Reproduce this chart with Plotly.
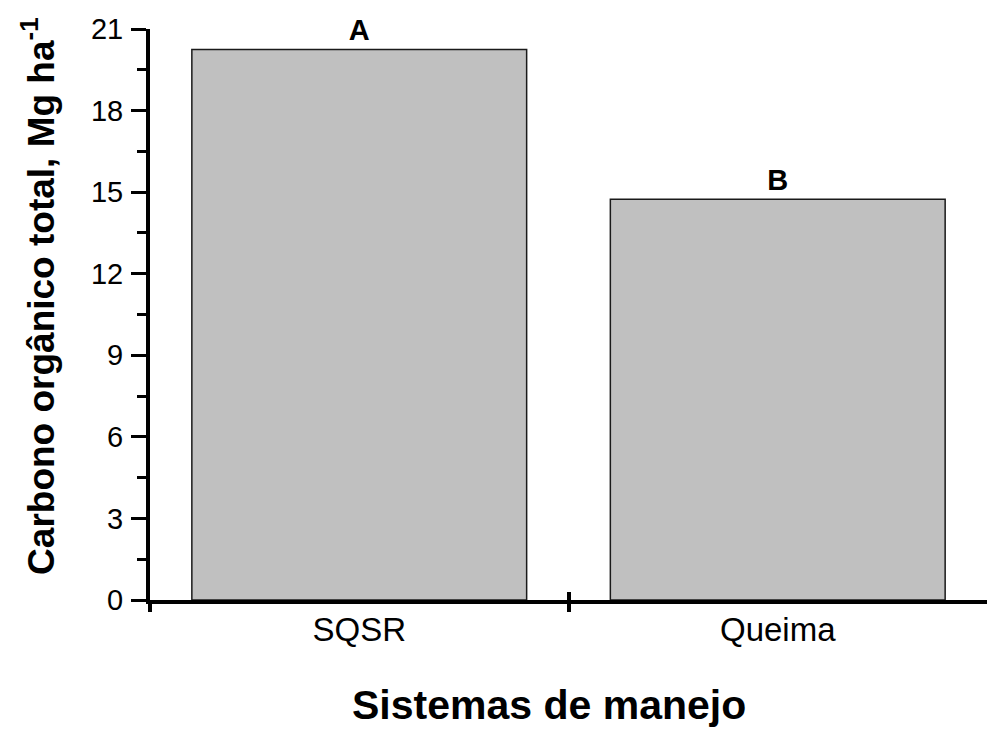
import plotly.graph_objects as go

categories = ["SQSR", "Queima"]
values = [20.25, 14.74]
letters = ["A", "B"]
y_tick_values = [0, 3, 6, 9, 12, 15, 18, 21]
x_label = "Sistemas de manejo"
y_label = "Carbono orgânico total, Mg ha<sup>-1</sup>"

FONT = "Liberation Sans, Arial, sans-serif"
x_pos = list(range(len(categories)))
sep_ticks = [p - 0.5 for p in x_pos]
inner_ticks = [p + 0.5 for p in x_pos[:-1]]

fig = go.Figure()
fig.add_trace(go.Bar(
    x=x_pos, y=values, width=0.8,
    marker=dict(color="#c0c0c0", line=dict(color="#1a1a1a", width=1.5)),
    text=letters, textposition="outside", constraintext="none",
    textfont=dict(family=FONT, size=29, color="black", weight="bold"),
    cliponaxis=False, hoverinfo="skip", showlegend=False,
))
fig.add_trace(go.Scatter(
    x=x_pos, y=values, xaxis="x2", mode="markers",
    marker=dict(opacity=0), hoverinfo="skip", showlegend=False,
))

xrange = [-0.5, len(categories) - 0.5]
fig.update_layout(
    width=987, height=734,
    margin=dict(l=150, r=0, t=29, b=134),
    plot_bgcolor="white", paper_bgcolor="white",
    font=dict(family=FONT, color="black"),
    xaxis=dict(
        range=xrange, tickmode="array", tickvals=x_pos, ticktext=categories,
        ticks="", showline=True, linewidth=4, linecolor="black",
        showgrid=False, zeroline=False,
        tickfont=dict(size=33, family=FONT),
        ticklabelstandoff=-3,
        minor=dict(tickmode="array", tickvals=sep_ticks, ticks="outside",
                   ticklen=8, tickwidth=4, tickcolor="black", showgrid=False),
    ),
    xaxis2=dict(
        range=xrange, overlaying="x", anchor="y", side="bottom",
        tickmode="array", tickvals=inner_ticks, ticks="inside",
        ticklen=8, tickwidth=4, tickcolor="black",
        showticklabels=False, showline=False, showgrid=False, zeroline=False,
    ),
    yaxis=dict(
        range=[0, 21], tickmode="array", tickvals=y_tick_values,
        ticks="outside", ticklen=15, tickwidth=3, tickcolor="black",
        showline=True, linewidth=4, linecolor="black",
        showgrid=False, zeroline=False,
        tickfont=dict(size=29, family=FONT),
        ticklabelstandoff=2,
        minor=dict(dtick=1.5, ticks="outside", ticklen=9, tickwidth=3,
                   tickcolor="black", showgrid=False),
    ),
    annotations=[
        dict(text=x_label, xref="paper", yref="paper", x=0.4767, y=-0.184,
             xanchor="center", yanchor="middle", showarrow=False,
             font=dict(size=41, family=FONT, weight="bold", color="black")),
        dict(text=y_label, xref="paper", yref="paper", x=-0.133, y=0.532,
             xanchor="center", yanchor="middle", showarrow=False, textangle=-90,
             font=dict(size=37, family=FONT, weight="bold", color="black")),
    ],
)

fig.write_html("out.html")
